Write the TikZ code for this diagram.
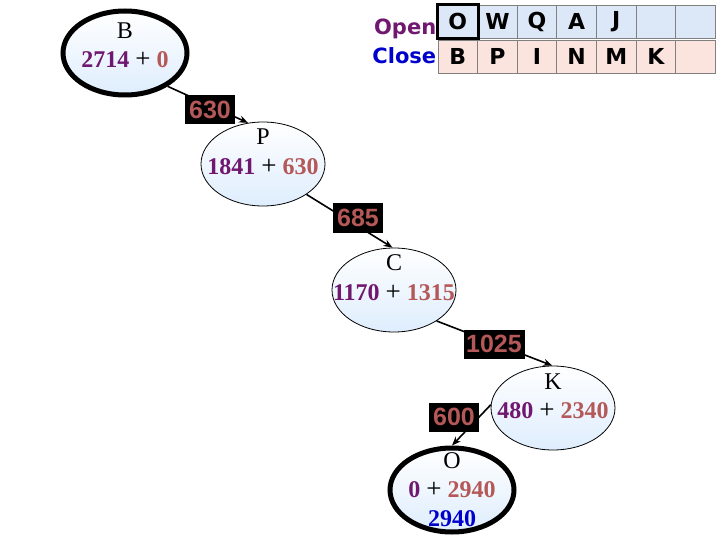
\documentclass[tikz,border=0pt]{standalone}
\usepackage{fontspec}
\setmainfont{Liberation Serif}
\setsansfont{DejaVu Sans}
\newfontfamily\costfont{Liberation Sans}
\usetikzlibrary{arrows.meta,shapes.geometric}

\definecolor{gpurple}{RGB}{112,24,112}
\definecolor{hbrown}{RGB}{180,88,88}
\definecolor{fblue}{RGB}{0,0,204}
\definecolor{openfill}{RGB}{220,232,248}
\definecolor{closefill}{RGB}{252,228,222}
\definecolor{ellfill}{RGB}{222,237,253}
\newcommand{\gh}[2]{{\bfseries\color{gpurple}#1} {\fontsize{27}{28}\selectfont+} {\bfseries\color{hbrown}#2}}

\begin{document}
\begin{tikzpicture}[x=1pt,y=-1pt,>={Stealth[length=9pt,width=7pt]},line width=1.6pt,
    state/.style={ellipse,draw,line width=0.8pt,top color=white,bottom color=ellfill,
        minimum width=124pt,minimum height=84pt,inner sep=0pt},
    goal/.style={state,line width=5pt},
    txt/.style={font=\fontsize{24}{28}\selectfont,inner sep=0pt},
    cost/.style={fill=black,text=hbrown,font=\costfont\bfseries\fontsize{25}{29}\selectfont,
        minimum width=50pt,minimum height=29pt,inner sep=0pt},
    cell/.style={draw=gray,line width=0.8pt,minimum width=39.6pt,minimum height=33pt,inner sep=0pt,
        font=\sffamily\bfseries\fontsize{22}{26}\selectfont},
    lst/.style={font=\sffamily\bfseries\fontsize{21}{25}\selectfont,anchor=east,inner sep=0pt}]
    \useasboundingbox (0,0) rectangle (720,540);

    \node[goal] (B) at (125,53) {};
    \node[state] (P) at (263,164) {};
    \node[state] (C) at (394,290) {};
    \node[state] (K) at (553,408) {};
    \node[goal] (O) at (452,490) {};

    \node[txt] (Bn) at (125,31) {B};
    \node[txt] (Bf) at (125,60) {\gh{2714}{0}};
    \node[txt] (Pn) at (263,137) {P};
    \node[txt] (Pf) at (263,167) {\gh{1841}{630}};
    \node[txt] (Cn) at (394,263) {C};
    \node[txt] (Cf) at (394,293) {\gh{1170}{1315}};
    \node[txt] (Kn) at (553,382) {K};
    \node[txt] (Kf) at (553,411) {\gh{480}{2340}};
    \node[txt] (On) at (452,461) {O};
    \node[txt] (Of) at (452,490) {\gh{0}{2940}};
    \node[txt,text=fblue] (Og) at (452,519) {\bfseries 2940};

    \draw[->] (B.-38) -- (P.110);
    \draw[->] (P.-35) -- (C.92);
    \draw[->] (C.-36) -- (K.91);
    \draw[->] (K.177) -- (O.90);

    \node[cost] (e1) at (210,110) {630};
    \node[cost] (e2) at (358,218) {685};
    \node[cost,minimum width=61pt] (e3) at (494,344) {1025};
    \node[cost] (e4) at (454,417) {600};

    \foreach \l [count=\i] in {O,W,Q,A,J,{},{}}
        \node[cell,fill=openfill] (o\i) at (438+39.6*\i-19.8,21.5) {\l};
    \foreach \l [count=\i] in {B,P,I,N,M,K,{}}
        \node[cell,fill=closefill] (c\i) at (438+39.6*\i-19.8,56.5) {\l};
    \draw[line width=3pt] (o1.north west) rectangle (o1.south east);

    \node[lst,text=gpurple] (open) at (437,29) {Open};
    \node[lst,text=fblue] (close) at (437,56) {Close};
\end{tikzpicture}
\end{document}
